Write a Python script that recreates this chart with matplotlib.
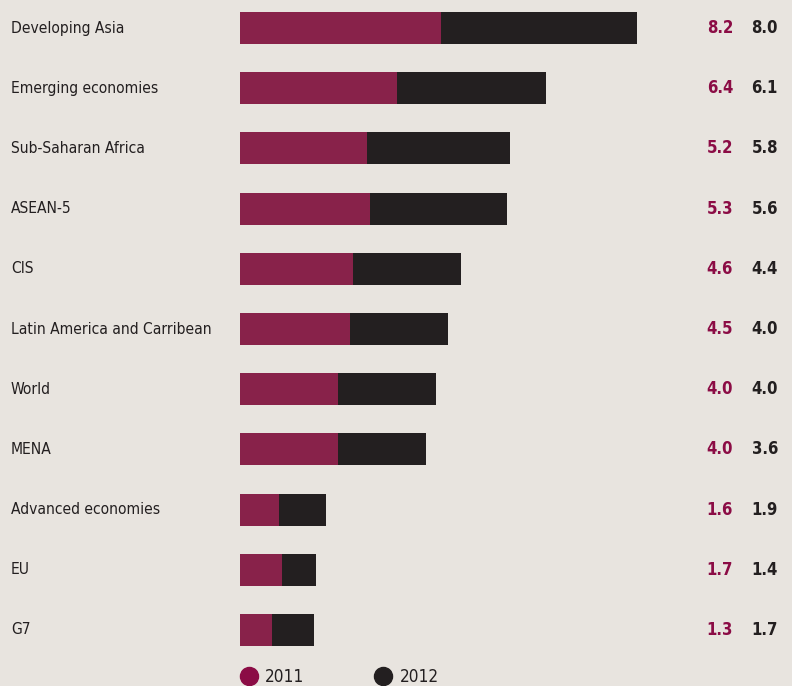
import matplotlib
matplotlib.use("Agg")
import matplotlib.pyplot as plt
from matplotlib.lines import Line2D
from matplotlib.transforms import blended_transform_factory

# data
regions = ["Developing Asia", "Emerging economies", "Sub-Saharan Africa", "ASEAN-5", "CIS",
           "Latin America and Carribean", "World", "MENA", "Advanced economies", "EU", "G7"]
growth_2011 = [8.2, 6.4, 5.2, 5.3, 4.6, 4.5, 4.0, 4.0, 1.6, 1.7, 1.3]
growth_2012 = [8.0, 6.1, 5.8, 5.6, 4.4, 4.0, 4.0, 3.6, 1.9, 1.4, 1.7]
years = ["2011", "2012"]

bg = "#e8e4df"
c2011 = "#88224a"
c2012 = "#231f20"
txt2011 = "#8b0c45"
fam = ["DejaVu Sans"]

fig = plt.figure(figsize=(7.92, 6.86), dpi=100, facecolor=bg)
# axes starts where the bars start (x=240px) and covers the full height
ax = fig.add_axes([240 / 792, 0, 552 / 792, 1])
ax.set_facecolor(bg)

ypos = list(range(len(regions)))
ax.barh(ypos, growth_2011, height=0.53, color=c2011)
ax.barh(ypos, growth_2012, left=growth_2011, height=0.53, color=c2012)

ax.set_xlim(0, 552 / 24.5)
ax.set_ylim((686 - 28) / 60.2, -28 / 60.2)
ax.axis("off")

trans = blended_transform_factory(fig.transFigure, ax.transData)
for i, name in enumerate(regions):
    ax.text(11 / 792, i, name, transform=trans, ha="left", va="center",
            fontsize=11.2, color="#231f20", family=fam, fontstretch="condensed", clip_on=False)
    ax.text(733 / 792, i, f"{growth_2011[i]:.1f}", transform=trans, ha="right", va="center",
            fontsize=12, fontweight="bold", color=txt2011, family=fam, fontstretch="condensed")
    ax.text(778 / 792, i, f"{growth_2012[i]:.1f}", transform=trans, ha="right", va="center",
            fontsize=12, fontweight="bold", color=c2012, family=fam, fontstretch="condensed")

handles = [Line2D([], [], marker="o", linestyle="", markersize=13, color=txt2011),
           Line2D([], [], marker="o", linestyle="", markersize=13, color=c2012)]
leg = fig.legend(handles, years, loc="center left", bbox_to_anchor=(232 / 792, 1 - 677 / 686),
                 ncol=2, frameon=False, handlelength=1.2, handletextpad=0.35, columnspacing=4.0,
                 borderaxespad=0, prop={"family": fam, "size": 12.3, "stretch": "condensed"})
for t in leg.get_texts():
    t.set_color("#231f20")

fig.savefig("out.png", dpi=100, facecolor=bg)
